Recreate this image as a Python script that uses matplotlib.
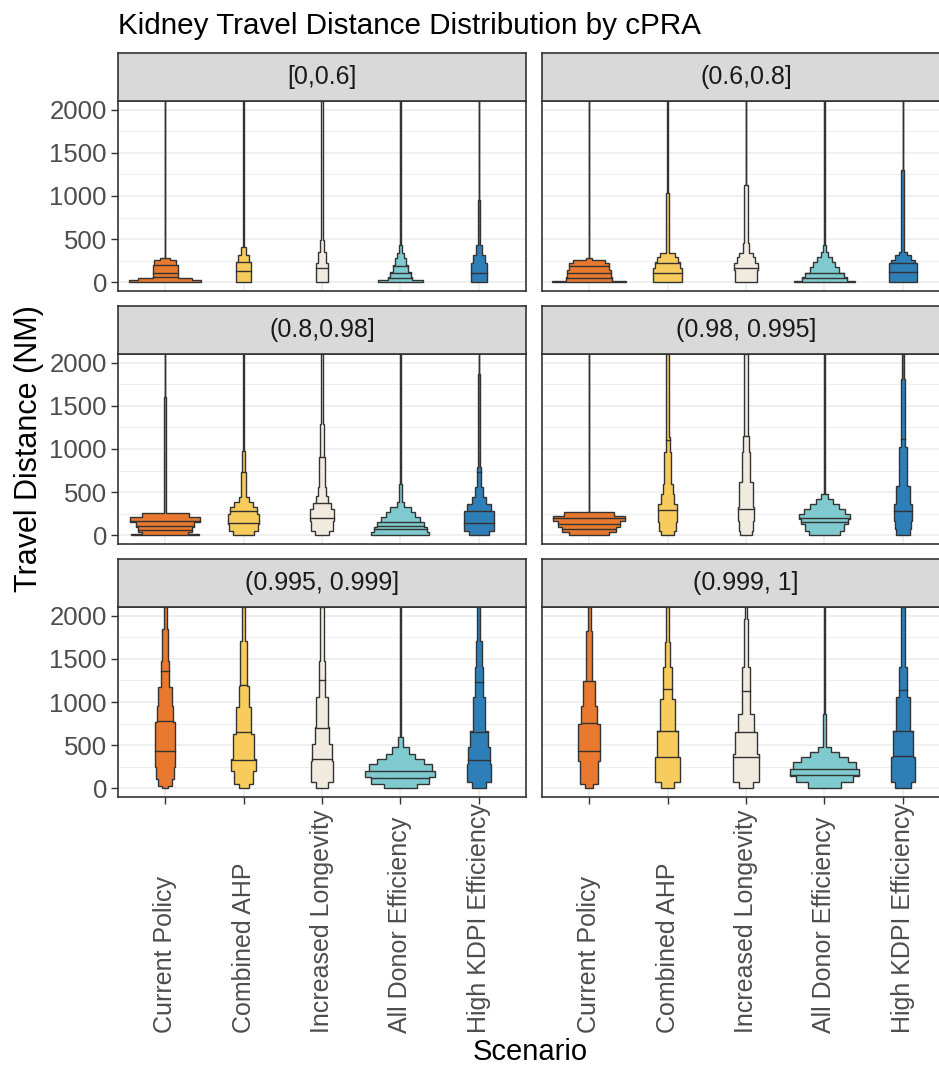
import numpy as np
import matplotlib
matplotlib.use("Agg")
import matplotlib.pyplot as plt

plt.rcParams["font.family"] = ["Liberation Sans", "DejaVu Sans"]

scenarios = ["Current Policy", "Combined AHP", "Increased Longevity",
             "All Donor Efficiency", "High KDPI Efficiency"]
colors = ["#E8792F", "#F8CC5C", "#F1EBDF", "#7ECACE", "#2E7EB8"]
cpra_bins = ["[0,0.6]", "(0.6,0.8]", "(0.8,0.98]", "(0.98, 0.995]",
             "(0.995, 0.999]", "(0.999, 1]"]

#
# violin outlines: top of each density step (NM)
# and the half width of that step (in category units), plus quantile lines
#
tops_a = [[25, 45, 200, 260, 285, 2100],
          [240, 316, 413, 2100],
          [220, 355, 490, 2100],
          [25, 60, 125, 200, 280, 335, 430, 2100],
          [220, 316, 432, 953, 2100]]
width_a = [[0.46, 0.34, 0.16, 0.135, 0.06, 0.005],
           [0.10, 0.075, 0.035, 0.012],
           [0.08, 0.047, 0.03, 0.015],
           [0.29, 0.153, 0.13, 0.10, 0.07, 0.045, 0.018, 0.004],
           [0.106, 0.08, 0.042, 0.012, 0.004]]
quant_a = [[60, 112, 200], [135, 240], [162], [45, 112, 190], [112]]

tops_b = [[20, 60, 143, 220, 258, 280, 2100],
          [162, 240, 297, 336, 432, 1030, 2100],
          [143, 220, 297, 336, 450, 1127, 2100],
          [20, 60, 112, 181, 240, 297, 355, 432, 2100],
          [220, 258, 316, 355, 1300, 2100]]
width_b = [[0.47, 0.29, 0.28, 0.26, 0.2, 0.04, 0.004],
           [0.187, 0.16, 0.136, 0.093, 0.02, 0.017, 0.004],
           [0.145, 0.155, 0.12, 0.085, 0.034, 0.02, 0.004],
           [0.39, 0.29, 0.246, 0.19, 0.14, 0.093, 0.05, 0.017, 0.004],
           [0.18, 0.15, 0.106, 0.05, 0.02, 0.004]]
quant_b = [[50, 105, 185], [112, 220], [162], [45, 105], [124, 228]]

tops_c = [[15, 35, 93, 150, 216, 255, 1600, 2100],
          [54, 131, 247, 324, 382, 440, 730, 980, 2100],
          [54, 170, 305, 374, 460, 556, 903, 1290, 2100],
          [35, 93, 150, 208, 266, 324, 382, 595, 2100],
          [54, 286, 363, 440, 556, 787, 1173, 1868, 2100]]
width_c = [[0.43, 0.29, 0.34, 0.37, 0.45, 0.30, 0.01, 0.004],
           [0.13, 0.18, 0.195, 0.17, 0.12, 0.064, 0.034, 0.02, 0.012],
           [0.094, 0.14, 0.157, 0.12, 0.077, 0.05, 0.034, 0.025, 0.012],
           [0.37, 0.34, 0.30, 0.246, 0.19, 0.13, 0.05, 0.02, 0.004],
           [0.13, 0.19, 0.15, 0.093, 0.05, 0.03, 0.017, 0.012, 0.004]]
quant_c = [[62, 112, 170], [143, 286, 730], [200, 374, 903],
           [73, 112, 150], [143, 286, 730]]

tops_d = [[35, 93, 170, 228, 266, 2100],
          [54, 150, 363, 478, 594, 961, 1135, 2100],
          [54, 170, 324, 614, 961, 1154, 2100],
          [54, 131, 189, 247, 305, 363, 420, 478, 2100],
          [73, 170, 363, 575, 1019, 1810, 2100]]
width_d = [[0.255, 0.34, 0.395, 0.46, 0.32, 0.004],
           [0.085, 0.106, 0.12, 0.085, 0.064, 0.05, 0.025, 0.017],
           [0.077, 0.094, 0.106, 0.085, 0.05, 0.034, 0.02],
           [0.2, 0.246, 0.3, 0.32, 0.26, 0.19, 0.106, 0.042, 0.004],
           [0.085, 0.106, 0.12, 0.093, 0.055, 0.03, 0.015]]
quant_d = [[75, 130, 197], [293, 1108], [305, 1154], [150, 200], [285, 1115]]

tops_e = [[31, 108, 243, 764, 957, 1170, 1478, 1845, 2100],
          [50, 205, 340, 629, 938, 1189, 1710, 2100],
          [69, 320, 513, 706, 1054, 1478, 2100],
          [50, 127, 205, 282, 340, 398, 475, 590, 2100],
          [69, 282, 475, 668, 1054, 1401, 1710, 2100]]
width_e = [[0.042, 0.085, 0.115, 0.128, 0.106, 0.085, 0.055, 0.034, 0.02],
           [0.064, 0.12, 0.157, 0.128, 0.098, 0.064, 0.042, 0.02],
           [0.077, 0.145, 0.128, 0.093, 0.072, 0.042, 0.025],
           [0.21, 0.37, 0.446, 0.40, 0.30, 0.19, 0.106, 0.034, 0.006],
           [0.085, 0.157, 0.136, 0.115, 0.076, 0.05, 0.034, 0.02]]
quant_e = [[428, 783, 1363], [328, 656, 1197], [340, 695, 1255],
           [116, 205], [332, 656, 1227]]

tops_f = [[50, 320, 745, 957, 1247, 1826, 2100],
          [69, 359, 668, 1034, 1401, 1691, 2100],
          [69, 398, 648, 861, 1401, 1961, 2100],
          [69, 147, 224, 301, 359, 417, 475, 861, 2100],
          [69, 359, 668, 1054, 1401, 2100]]
width_f = [[0.05, 0.12, 0.136, 0.106, 0.076, 0.042, 0.02],
           [0.085, 0.16, 0.128, 0.093, 0.055, 0.034, 0.02],
           [0.093, 0.16, 0.136, 0.106, 0.05, 0.025, 0.017],
           [0.21, 0.36, 0.44, 0.40, 0.30, 0.19, 0.085, 0.017, 0.005],
           [0.106, 0.157, 0.128, 0.085, 0.055, 0.03]]
quant_f = [[428, 757, 1247], [360, 660, 1150], [360, 649, 1131],
           [154, 224], [378, 660, 1142]]

panels = [(tops_a, width_a, quant_a), (tops_b, width_b, quant_b),
          (tops_c, width_c, quant_c), (tops_d, width_d, quant_d),
          (tops_e, width_e, quant_e), (tops_f, width_f, quant_f)]

dark = "#333333"
W, H = 939, 1070


def violin(ax, c, tops, widths, quants, color):
    bottoms = [0] + tops[:-1]
    xr, yr = [], []
    for y0, y1, w in zip(bottoms, tops, widths):
        xr += [c + w, c + w]
        yr += [y0, y1]
    xs = xr + [2 * c - x for x in xr[::-1]]
    ys = yr + yr[::-1]
    ax.fill(xs, ys, facecolor=color, edgecolor=dark, linewidth=1.0, zorder=3)
    for q in quants:
        for y0, y1, w in zip(bottoms, tops, widths):
            if y0 <= q < y1:
                ax.plot([c - w, c + w], [q, q], color=dark, lw=1.0, zorder=4)
                break


fig = plt.figure(figsize=(W / 100, H / 100), dpi=100)

col_x = [118, 542]
panel_w = 408
row_top = [101, 354, 607]
panel_h = 190
strip_h = 48
tick_len = 5

for k, (tops, widths, quants) in enumerate(panels):
    r, c = divmod(k, 2)
    x0 = col_x[c]
    y0 = row_top[r]
    ax = fig.add_axes([x0 / W, 1 - (y0 + panel_h) / H, panel_w / W, panel_h / H])
    for i in range(5):
        violin(ax, i + 1, tops[i], widths[i], quants[i], colors[i])

    ax.set_xlim(0.4, 5.6)
    ax.set_ylim(-100, 2100)
    ax.set_yticks([0, 500, 1000, 1500, 2000])
    ax.set_yticks([250, 750, 1250, 1750], minor=True)
    ax.set_xticks(range(1, 6))
    ax.grid(True, which="major", color="#EBEBEB", lw=1.1)
    ax.grid(True, which="minor", axis="y", color="#EBEBEB", lw=0.6)
    ax.set_axisbelow(True)
    for s in ax.spines.values():
        s.set_color(dark)
        s.set_linewidth(1.2)
    ax.tick_params(which="minor", length=0)
    ax.tick_params(which="major", color=dark, length=tick_len, width=1.0,
                   labelsize=18, labelcolor="#4D4D4D", pad=3)
    if c == 0:
        ax.set_yticklabels(["0", "500", "1000", "1500", "2000"])
        ax.tick_params(axis="y", labelsize=18.5)
    else:
        ax.tick_params(axis="y", length=0, labelleft=False)
    if r == 2:
        # labels share a common bottom line, like hjust = 0 in ggplot
        ax.set_xticklabels(scenarios, rotation=90, va="bottom")
        bottom_px = 1033
        pad_px = bottom_px - (y0 + panel_h) - tick_len * 100 / 72
        ax.tick_params(axis="x", pad=pad_px * 72 / 100)
    else:
        ax.tick_params(axis="x", length=0, labelbottom=False)

    sax = fig.add_axes([x0 / W, 1 - y0 / H, panel_w / W, strip_h / H])
    sax.set_facecolor("#D9D9D9")
    sax.set_xticks([])
    sax.set_yticks([])
    for s in sax.spines.values():
        s.set_color(dark)
        s.set_linewidth(1.2)
    sax.text(0.5, 0.5, cpra_bins[k], ha="center", va="center",
             fontsize=18, color="#1A1A1A", transform=sax.transAxes)

fig.text(118 / W, 1 - 26 / H, "Kidney Travel Distance Distribution by cPRA",
         ha="left", va="center", fontsize=21.3, color="black")
fig.text(29 / W, 1 - 449 / H, "Travel Distance (NM)", rotation=90,
         ha="center", va="center", fontsize=22, color="black")
fig.text(530 / W, 1 - 1052 / H, "Scenario", ha="center", va="center",
         fontsize=21, color="black")

fig.savefig("out.png", dpi=100)
